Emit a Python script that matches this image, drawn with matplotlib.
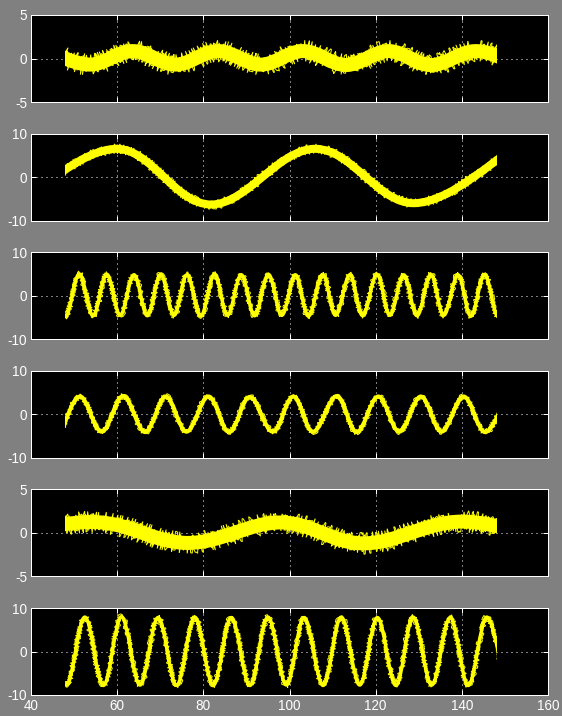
"""
Six stacked scope traces (MATLAB-style black axes on a grey figure).
"""

import numpy as np
import matplotlib
matplotlib.use("Agg")
import matplotlib.pyplot as plt
from matplotlib.path import Path
from matplotlib.patches import PathPatch, Polygon

# common sample window of all traces
t_start, t_end = 48.0, 148.2

# x axis
x_ticks = [40, 60, 80, 100, 120, 140, 160]
x_labels = ["40", "60", "80", "100", "120", "140", "160"]

# y axes (one per trace)
y_limits = [5, 10, 10, 10, 5, 10]
y_ticks = [[-5, 0, 5], [-10, 0, 10], [-10, 0, 10], [-10, 0, 10], [-5, 0, 5], [-10, 0, 10]]
y_labels = [["-5", "0", "5"], ["-10", "0", "10"], ["-10", "0", "10"],
            ["-10", "0", "10"], ["-5", "0", "5"], ["-10", "0", "10"]]

# turning points (time, value), one beyond each end
sig1_t = [43.8, 53.7, 63.6, 73.5, 83.4, 93.3, 103.2, 113.1, 123.0, 132.8, 143.2, 152.8]
sig1_y = [0.85, -0.7, 0.85, -0.7, 0.85, -0.7, 0.85, -0.75, 0.85, -0.75, 0.85, -0.7]

sig2_t = [36.9, 59.9, 81.8, 105.9, 128.8, 151.9]
sig2_y = [-6.2, 6.5, -6.3, 6.5, -6.0, 6.5]

sig3_t = [44.9, 48.0, 51.2, 54.4, 57.6, 60.7, 63.9, 67.0, 70.1, 73.2, 76.2, 79.4,
          82.6, 85.6, 88.8, 91.9, 95.1, 98.2, 101.35, 104.4, 107.7, 110.7, 114.0,
          117.0, 120.3, 123.3, 126.5, 129.6, 132.8, 135.8, 139.1, 142.1, 145.3,
          148.4, 151.5]
sig3_y = [4.9, -4.8, 5.0, -4.6, 4.9, -4.5, 4.8, -4.6, 4.9, -4.5, 4.8, -4.7,
          5.0, -4.5, 4.8, -4.6, 4.9, -4.5, 4.8, -4.7, 4.9, -4.5, 4.8,
          -4.6, 4.9, -4.5, 4.8, -4.6, 4.9, -4.5, 4.8, -4.7, 4.9,
          -4.8, 4.9]

sig4_t = [47.0, 51.4, 56.4, 61.4, 66.5, 71.3, 76.1, 81.2, 86.0, 90.8, 96.1,
          100.9, 105.5, 110.96, 115.6, 120.6, 125.5, 130.5, 135.3, 140.4, 145.4, 150.3]
sig4_y = [-4.0, 4.1, -4.0, 4.2, -4.1, 4.1, -4.0, 4.1, -4.1, 4.0, -4.0,
          4.1, -4.0, 4.2, -4.1, 4.1, -4.0, 4.1, -4.0, 4.1, -4.1, 4.1]

sig5_t = [26.0, 54.0, 76.3, 98.0, 117.3, 140.0, 162.0]
sig5_y = [-1.2, 1.25, -1.15, 1.2, -1.2, 1.3, -1.2]

sig6_t = [43.9, 48.2, 52.5, 56.8, 61.0, 65.3, 69.5, 73.8, 78.0, 82.3, 86.5,
          90.8, 95.0, 99.3, 103.4, 107.8, 112.0, 116.3, 120.4, 124.7, 128.7,
          133.0, 137.3, 141.5, 145.8, 150.0]
sig6_y = [7.8, -7.7, 7.9, -7.8, 8.0, -7.7, 7.8, -7.8, 7.9, -7.7, 7.8,
          -7.8, 7.9, -7.7, 7.8, -7.8, 7.9, -7.7, 7.8, -7.8, 7.9,
          -7.7, 7.8, -7.8, 7.9, -7.7]

traces = [(sig1_t, sig1_y), (sig2_t, sig2_y), (sig3_t, sig3_y),
          (sig4_t, sig4_y), (sig5_t, sig5_y), (sig6_t, sig6_y)]

# line body width and noise (spike) size per trace, in pixels
body_width = [14, 8, 3.5, 4, 14, 3.5]
spike_size = [11, 5, 3, 3, 11, 3]

plt.rcParams["axes.unicode_minus"] = False
FONT = ["Liberation Sans", "DejaVu Sans"]


def smooth_path(t, y, k=0.18):
    """Cubic Bezier path through the turning points (Catmull-Rom tangents)."""
    n = len(t)
    verts = [(t[0], y[0])]
    codes = [Path.MOVETO]
    for i in range(n - 1):
        i0 = max(i - 1, 0)
        i3 = min(i + 2, n - 1)
        c1 = (t[i] + k * (t[i + 1] - t[i0]), y[i] + k * (y[i + 1] - y[i0]))
        c2 = (t[i + 1] - k * (t[i3] - t[i]), y[i + 1] - k * (y[i3] - y[i]))
        verts += [c1, c2, (t[i + 1], y[i + 1])]
        codes += [Path.CURVE4] * 3
    return Path(verts, codes)


W, H = 562, 716
fig = plt.figure(figsize=(W / 72, H / 72), dpi=72, facecolor="#808080")

left_px, width_px, height_px = 31, 517, 87
bottoms_px = [102 + i * 118.6 for i in range(6)]

for i, (t, y) in enumerate(traces):
    ax = fig.add_axes([left_px / W, 1 - bottoms_px[i] / H, width_px / W, height_px / H],
                      facecolor="black")
    ax.set_xlim(40, 160)
    ax.set_ylim(-y_limits[i], y_limits[i])
    ax.set_xticks(x_ticks)
    ax.set_yticks(y_ticks[i])
    ax.set_yticklabels(y_labels[i], family=FONT)
    if i == 5:
        ax.set_xticklabels(x_labels, family=FONT)
    else:
        ax.set_xticklabels([])
    ax.tick_params(direction="in", length=5, width=1, colors="white",
                   top=True, right=True, labelsize=13.5, pad=4)
    for s in ax.spines.values():
        s.set_color("white")
        s.set_linewidth(1)
    ax.grid(True, color="white", linestyle=(0, (1, 4)), linewidth=1)
    ax.set_axisbelow(True)

    path = smooth_path(t, y)
    lim = 2 * y_limits[i]
    window = Polygon([(t_start, -lim), (t_end, -lim), (t_end, lim), (t_start, lim)],
                     closed=True, transform=ax.transData)

    body = PathPatch(path, fill=False, edgecolor="#ffff00", lw=body_width[i],
                     capstyle="butt", joinstyle="round", zorder=3)
    ax.add_patch(body)
    body.set_clip_path(window)

    # measurement noise as fine jagged spikes along the trace
    for scale, length in [(spike_size[i], 1.0), (spike_size[i] * 0.75, 3.0)]:
        noise = PathPatch(path, fill=False, edgecolor="#ffff00", lw=1.0,
                          capstyle="butt", zorder=3)
        noise.set_sketch_params(scale=scale, length=length, randomness=10)
        ax.add_patch(noise)
        noise.set_clip_path(window)

fig.savefig("out.png", dpi=72, facecolor=fig.get_facecolor())
